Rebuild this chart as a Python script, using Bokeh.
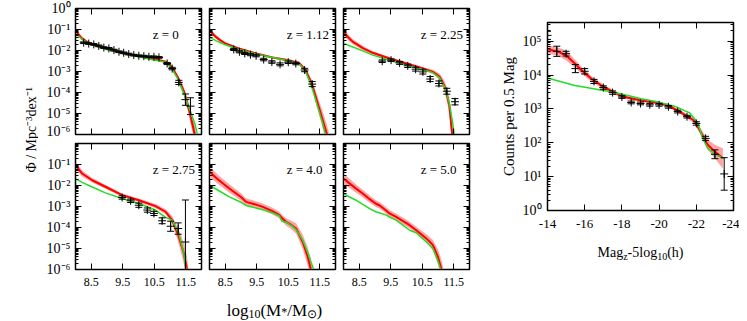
import numpy as np
from bokeh.plotting import figure
from bokeh.models import Range1d, FixedTicker, LogAxis, LinearAxis, CustomJSTickFormatter, Label
from bokeh.layouts import row, column
from bokeh.embed import file_html
from bokeh.resources import INLINE

FONT = "Liberation Serif"

# ---------------- data: stellar mass functions (log10 M*, log10 Phi) ----------------
z_labels = ["z = 0", "z = 1.12", "z = 2.25", "z = 2.75", "z = 4.0", "z = 5.0"]

m_z0 = [8.0, 8.1, 8.2, 8.35, 8.5, 8.9, 9.5, 10.0, 10.5, 10.85, 11.05, 11.25, 11.45, 11.6, 11.72, 11.8, 11.9]
red_z0 = [-1.03, -1.25, -1.42, -1.58, -1.69, -1.88, -2.13, -2.27, -2.40, -2.53, -2.78, -3.28, -3.98, -4.8, -5.56, -6.1, -7.0]
band_z0 = [0.15, 0.12, 0.1, 0.08, 0.07, 0.06, 0.05, 0.05, 0.05, 0.05, 0.06, 0.1, 0.2, 0.3, 0.4, 0.45, 0.45]
green_z0 = [-1.19, -1.32, -1.45, -1.6, -1.71, -1.92, -2.14, -2.30, -2.45, -2.56, -2.84, -3.36, -4.1, -4.7, -5.2, -5.55, -6.2]
obs_m_z0 = [8.26, 8.42, 8.58, 8.74, 8.90, 9.06, 9.22, 9.38, 9.53, 9.69, 9.85, 10.01, 10.17, 10.33, 10.49, 10.65, 10.91, 11.07, 11.28, 11.49, 11.65]
obs_phi_z0 = [-1.63, -1.67, -1.71, -1.78, -1.86, -1.90, -1.98, -2.06, -2.11, -2.17, -2.22, -2.25, -2.27, -2.30, -2.30, -2.33, -2.62, -2.86, -3.52, -4.34, -4.65]
obs_err_z0 = [0.04, 0.04, 0.04, 0.04, 0.04, 0.04, 0.04, 0.04, 0.04, 0.04, 0.04, 0.04, 0.04, 0.04, 0.04, 0.04, 0.05, 0.06, 0.1, 0.27, 0.4]

m_z1 = [8.0, 8.1, 8.2, 8.35, 8.5, 8.9, 9.5, 10.0, 10.5, 10.85, 11.05, 11.25, 11.42, 11.58, 11.73, 11.85]
red_z1 = [-1.03, -1.2, -1.35, -1.52, -1.66, -1.89, -2.15, -2.33, -2.46, -2.6, -2.94, -3.6, -4.44, -5.24, -6.0, -6.7]
band_z1 = [0.14, 0.12, 0.1, 0.07, 0.06, 0.05, 0.05, 0.05, 0.05, 0.07, 0.12, 0.2, 0.3, 0.4, 0.45, 0.45]
green_z1 = [-1.35, -1.45, -1.53, -1.63, -1.73, -1.94, -2.18, -2.33, -2.49, -2.64, -3.0, -3.75, -4.6, -5.4, -6.3, -7.0]
obs_m_z1 = [8.77, 8.95, 9.12, 9.30, 9.48, 9.72, 9.98, 10.24, 10.50, 10.74, 11.02, 11.26]
obs_phi_z1 = [-1.95, -2.06, -2.14, -2.20, -2.25, -2.43, -2.55, -2.66, -2.56, -2.62, -2.93, -3.60]
obs_err_z1 = [0.05, 0.05, 0.05, 0.05, 0.05, 0.06, 0.06, 0.07, 0.06, 0.06, 0.08, 0.12]

m_z2 = [8.0, 8.08, 8.3, 8.63, 8.93, 9.46, 9.99, 10.52, 10.84, 11.05, 11.21, 11.36, 11.45, 11.52, 11.6]
red_z2 = [-1.03, -1.27, -1.59, -1.9, -2.11, -2.38, -2.62, -2.86, -3.02, -3.25, -3.7, -4.6, -6.0, -7.0, -7.5]
band_z2 = [0.15, 0.15, 0.12, 0.1, 0.08, 0.07, 0.07, 0.08, 0.1, 0.15, 0.25, 0.4, 0.6, 0.7, 0.7]
green_z2 = [-1.67, -1.71, -1.83, -2.03, -2.22, -2.46, -2.70, -2.9, -3.06, -3.3, -3.75, -4.5, -5.3, -6.0, -7.0]
obs_m_z2 = [9.23, 9.51, 9.78, 10.04, 10.29, 10.52, 10.75, 11.03, 11.28, 11.54]
obs_phi_z2 = [-2.51, -2.46, -2.59, -2.73, -2.89, -3.02, -3.36, -3.57, -3.94, -4.44]
obs_err_z2 = [0.06, 0.06, 0.07, 0.08, 0.09, 0.1, 0.12, 0.12, 0.14, 0.15]

m_z3 = [8.0, 8.21, 8.53, 8.95, 9.48, 10.01, 10.54, 10.86, 11.07, 11.28, 11.44, 11.54, 11.62]
red_z3 = [-1.03, -1.43, -1.75, -2.06, -2.46, -2.70, -2.98, -3.25, -3.65, -4.44, -5.24, -6.0, -7.0]
band_z3 = [0.18, 0.14, 0.11, 0.09, 0.08, 0.08, 0.1, 0.12, 0.2, 0.35, 0.5, 0.6, 0.6]
green_z3 = [-1.67, -1.85, -2.07, -2.35, -2.62, -2.86, -3.17, -3.52, -3.65, -4.28, -5.24, -6.5, -7.0]
obs_m_z3 = [9.48, 9.75, 10.01, 10.28, 10.49, 10.75, 11.02, 11.26, 11.49]
obs_phi_z3 = [-2.57, -2.73, -2.94, -3.17, -3.33, -3.68, -3.94, -4.05, -4.69]
obs_err_z3 = [0.08, 0.08, 0.1, 0.1, 0.1, 0.14, 0.24, 0.27, 2.0]

m_z4 = [8.0, 8.3, 8.63, 9.0, 9.16, 9.5, 9.69, 10.0, 10.22, 10.3, 10.43, 10.6, 10.75, 10.96, 11.12, 11.21, 11.33]
red_z4 = [-1.35, -1.75, -2.14, -2.55, -2.78, -2.92, -3.02, -3.22, -3.41, -3.55, -3.73, -3.88, -4.05, -4.69, -5.4, -5.95, -7.0]
band_z4 = [0.25, 0.22, 0.2, 0.18, 0.17, 0.16, 0.16, 0.16, 0.16, 0.16, 0.17, 0.2, 0.25, 0.35, 0.45, 0.5, 0.5]
green_z4 = [-1.98, -2.25, -2.54, -2.8, -2.95, -3.08, -3.15, -3.3, -3.45, -3.7, -3.75, -3.9, -4.1, -4.6, -5.2, -5.6, -6.1]

m_z5 = [8.0, 8.19, 8.4, 8.61, 8.83, 9.04, 9.14, 9.36, 9.46, 9.67, 10.1, 10.31, 10.63, 10.84, 11.0, 11.1, 11.2]
red_z5 = [-1.67, -1.90, -2.15, -2.38, -2.65, -2.88, -2.94, -3.2, -3.33, -3.49, -3.89, -4.13, -4.52, -4.84, -5.4, -5.95, -6.6]
band_z5 = [0.25, 0.22, 0.2, 0.18, 0.17, 0.16, 0.16, 0.16, 0.16, 0.16, 0.16, 0.17, 0.2, 0.25, 0.35, 0.45, 0.5]
green_z5 = [-2.38, -2.55, -2.7, -2.9, -3.1, -3.26, -3.3, -3.41, -3.5, -3.65, -4.13, -4.25, -4.69, -5.0, -5.6, -6.1, -6.8]

# ---------------- data: luminosity function (Mag_z - 5log10 h, log10 counts) ----------------
lf_mag = [-14.0, -14.5, -15.0, -15.5, -16.0, -16.5, -17.0, -17.5, -18.0, -18.5, -19.0, -19.5, -20.0, -20.5, -21.0, -21.5, -22.0, -22.5, -23.0, -23.5]
lf_counts = [5.17, 4.70, 4.63, 4.19, 4.11, 3.81, 3.63, 3.48, 3.35, 3.19, 3.16, 3.12, 3.12, 3.06, 2.92, 2.77, 2.57, 2.13, 1.66, 1.08]
lf_err = [0.12, 0.15, 0.07, 0.12, 0.08, 0.06, 0.05, 0.05, 0.04, 0.04, 0.04, 0.04, 0.04, 0.04, 0.04, 0.04, 0.05, 0.06, 0.13, 0.48]
lf_red_mag = [-14.0, -14.57, -15.02, -15.47, -15.83, -16.36, -16.9, -17.52, -18.15, -19.04, -19.94, -20.47, -21.01, -21.45, -21.9, -22.16, -22.4, -22.6, -22.99, -23.43]
lf_red = [4.76, 4.69, 4.57, 4.34, 4.14, 3.89, 3.69, 3.50, 3.35, 3.25, 3.18, 3.10, 2.95, 2.80, 2.65, 2.40, 2.15, 1.95, 1.74, 1.54]
lf_band = [0.12, 0.12, 0.15, 0.12, 0.1, 0.08, 0.07, 0.06, 0.05, 0.05, 0.05, 0.05, 0.05, 0.06, 0.08, 0.1, 0.12, 0.15, 0.2, 0.3]
lf_green_mag = [-14.0, -15.47, -17.25, -18.15, -19.04, -19.94, -20.83, -21.37, -21.63, -22.07, -22.34, -22.6, -22.99, -23.48]
lf_green = [3.91, 3.69, 3.52, 3.42, 3.30, 3.20, 3.08, 2.95, 2.89, 2.60, 2.15, 1.85, 1.66, 1.54]

mass_ticks = [8.5, 9.5, 10.5, 11.5]
mag_ticks = [-14, -16, -18, -20, -22, -24]

RED = "#ff0000"
BAND = "#ff9a9a"
GREEN = "#22dd22"

SUP = {"-": "\u207b", "0": "\u2070", "1": "\u00b9", "2": "\u00b2", "3": "\u00b3",
       "4": "\u2074", "5": "\u2075", "6": "\u2076", "7": "\u2077", "8": "\u2078", "9": "\u2079"}
pow_fmt = CustomJSTickFormatter(args=dict(sup=SUP), code="""
const e = Math.round(Math.log10(tick));
let s = "";
for (const c of String(e)) { s += sup[c]; }
return "10" + s;
""")
blank_fmt = CustomJSTickFormatter(code="return '';")
mass_fmt = CustomJSTickFormatter(code="return tick.toFixed(1);")
mag_fmt = CustomJSTickFormatter(code="return tick.toFixed(0);")


def style_axis(ax, ticker, fmt=None, size="12px", standoff=5):
    ax.ticker = ticker
    ax.axis_line_color = "black"
    ax.axis_line_width = 1
    ax.major_tick_line_color = "black"
    ax.minor_tick_line_color = "black"
    ax.major_tick_in = 6
    ax.major_tick_out = 0
    ax.minor_tick_in = 3
    ax.minor_tick_out = 0
    if fmt is None:
        ax.formatter = blank_fmt
        ax.major_label_text_font_size = "0px"
        ax.major_label_standoff = 0
    else:
        ax.formatter = fmt
        ax.major_label_text_font = FONT
        ax.major_label_text_font_size = size
        ax.major_label_text_color = "black"
        ax.major_label_standoff = standoff


def log_ticker(lo, hi, minor_hi):
    majors = [10.0 ** k for k in range(lo, hi + 1)]
    minors = [m * 10.0 ** k for k in range(lo, minor_hi + 1) for m in range(2, 10)]
    return FixedTicker(ticks=majors, minor_ticks=minors)


def base_fig(fw, fh, xr, yr, bl, br, bt, bb):
    p = figure(frame_width=fw, frame_height=fh, x_range=xr, y_range=yr,
               y_axis_type="log", output_backend="svg", toolbar_location=None,
               min_border_left=bl, min_border_right=br, min_border_top=bt, min_border_bottom=bb)
    p.xgrid.visible = False
    p.ygrid.visible = False
    p.outline_line_color = "black"
    p.outline_line_width = 1.5
    p.background_fill_color = "white"
    p.border_fill_color = "white"
    return p


def text_fig(w, h, bl=0, br=0):
    f = figure(frame_width=w, frame_height=h, x_range=Range1d(0, w), y_range=Range1d(0, h),
               x_axis_location=None, y_axis_location=None, output_backend="svg",
               toolbar_location=None, min_border_left=bl, min_border_right=br,
               min_border_top=0, min_border_bottom=0)
    f.xgrid.visible = False
    f.ygrid.visible = False
    f.outline_line_color = None
    return f


def add_text(f, x, y, txt, size, angle=0.0):
    f.add_layout(Label(x=x, y=y, text=txt, text_font=FONT, text_font_size=size,
                       text_align="left", text_baseline="alphabetic", angle=angle,
                       text_color="black"))


def draw_errors(p, xs, ys, es):
    xs = np.array(xs)
    ys = np.array(ys)
    es = np.array(es)
    lo = 10 ** (ys - es)
    hi = 10 ** (ys + es)
    p.segment(x0=xs, y0=lo, x1=xs, y1=hi, line_color="black", line_width=1)
    p.scatter(x=np.concatenate([xs, xs]), y=np.concatenate([lo, hi]), marker="dash",
              size=7, line_color="black", line_width=1)
    p.scatter(x=xs, y=10 ** ys, marker="cross", size=8, line_color="black", line_width=1)


smf = [
    (m_z0, red_z0, band_z0, green_z0, obs_m_z0, obs_phi_z0, obs_err_z0),
    (m_z1, red_z1, band_z1, green_z1, obs_m_z1, obs_phi_z1, obs_err_z1),
    (m_z2, red_z2, band_z2, green_z2, obs_m_z2, obs_phi_z2, obs_err_z2),
    (m_z3, red_z3, band_z3, green_z3, obs_m_z3, obs_phi_z3, obs_err_z3),
    (m_z4, red_z4, band_z4, green_z4, None, None, None),
    (m_z5, red_z5, band_z5, green_z5, None, None, None),
]

panels = []
for i, (mm, rr, bb_, gg, om, op, oe) in enumerate(smf):
    top = i < 3
    col = i % 3
    bl = 37 if col == 0 else 4
    bt = 8 if top else 5
    bbm = 4 if top else 24
    p = base_fig(126, 126, Range1d(8, 12), Range1d(1e-6, 1), bl, 4, bt, bbm)
    style_axis(p.xaxis[0], FixedTicker(ticks=mass_ticks, minor_ticks=[]),
               None if top else mass_fmt, "12px", 8)
    yt = log_ticker(-6, 0, -1) if top else FixedTicker(
        ticks=[10.0 ** k for k in range(-6, 0)],
        minor_ticks=[m * 10.0 ** k for k in range(-6, 0) for m in range(2, 10)])
    style_axis(p.yaxis[0], yt, pow_fmt if col == 0 else None, "14px", 5)
    ax_top = LinearAxis()
    style_axis(ax_top, FixedTicker(ticks=mass_ticks, minor_ticks=[]))
    p.add_layout(ax_top, "above")
    ax_r = LogAxis()
    style_axis(ax_r, log_ticker(-6, 0, -1))
    p.add_layout(ax_r, "right")

    mm = np.array(mm); rr = np.array(rr); bb_ = np.array(bb_); gg = np.array(gg)
    p.varea(x=mm, y1=10 ** (rr - bb_), y2=10 ** (rr + bb_), fill_color=BAND, fill_alpha=0.9)
    p.line(mm, 10 ** rr, line_color=RED, line_width=2)
    p.line(mm, 10 ** gg, line_color=GREEN, line_width=1.5)
    if om is not None:
        draw_errors(p, om, op, oe)
    p.add_layout(Label(x=10.45, y=10 ** -1.23, text=z_labels[i], text_font=FONT,
                       text_font_size="13px", text_baseline="middle", text_align="left",
                       text_color="black"))
    panels.append(p)

# y-axis title (rotated) in its own narrow text figure (38 x 293)
yfig = text_fig(38, 293)
add_text(yfig, 31, 121, "\u03a6 / Mpc\u207b\u00b3dex\u207b\u00b9", "14px", angle=np.pi / 2)

# x-axis title under the SMF grid: log10(M*/M_sun)
xt = text_fig(473, 27)
cx = 274
for txt, fs, dx, y in [("log", "17px", -47.8, 10), ("10", "12px", -26.1, 6.5), ("(M", "17px", -14.1, 10),
                       ("*", "12px", 6.7, 8.5), ("/M", "17px", 12.7, 10), ("\u2299", "12px", 32.5, 6.5),
                       (")", "17px", 42.1, 10)]:
    add_text(xt, cx + dx, y, txt, fs)

# ---------------- luminosity function panel ----------------
q = base_fig(186, 188, Range1d(-14, -24), Range1d(1, 10 ** 5.55), 74, 6, 22, 26)
style_axis(q.xaxis[0], FixedTicker(ticks=mag_ticks, minor_ticks=[]), mag_fmt, "13px", 9)
style_axis(q.yaxis[0], log_ticker(0, 5, 5), pow_fmt, "14px", 6)
q.yaxis[0].axis_label = "Counts per 0.5 Mag"
q.yaxis[0].axis_label_text_font = FONT
q.yaxis[0].axis_label_text_font_size = "15px"
q.yaxis[0].axis_label_text_font_style = "normal"
q.yaxis[0].axis_label_text_color = "black"
q.yaxis[0].axis_label_standoff = 3
qa = LinearAxis()
style_axis(qa, FixedTicker(ticks=mag_ticks, minor_ticks=[]))
q.add_layout(qa, "above")
qr = LogAxis()
style_axis(qr, log_ticker(0, 5, 5))
q.add_layout(qr, "right")

rm = np.array(lf_red_mag); rv = np.array(lf_red); rb = np.array(lf_band)
q.varea(x=rm, y1=10 ** (rv - rb), y2=10 ** (rv + rb), fill_color=BAND, fill_alpha=0.9)
q.line(rm, 10 ** rv, line_color=RED, line_width=2)
q.line(lf_green_mag, 10 ** np.array(lf_green), line_color=GREEN, line_width=1.5)
draw_errors(q, lf_mag, lf_counts, lf_err)

# title under the luminosity panel; same side borders as the panel so frames line up
qt = text_fig(186, 84, bl=74, br=6)
qcx = 93
for txt, fs, dx, y in [("Mag", "14px", -43, 68), ("z", "10px", -17.3, 64.5), ("-5log", "14px", -12.9, 68),
                       ("10", "10px", 16.7, 64.5), ("(h)", "14px", 26.7, 68)]:
    add_text(qt, qcx + dx, y, txt, fs)

grid = column(row(panels[0], panels[1], panels[2]), row(panels[3], panels[4], panels[5]))
left = column(row(yfig, grid), xt)
right = column(q, qt)
layout = row(left, right)

open("out.html", "w").write(file_html(layout, INLINE))
